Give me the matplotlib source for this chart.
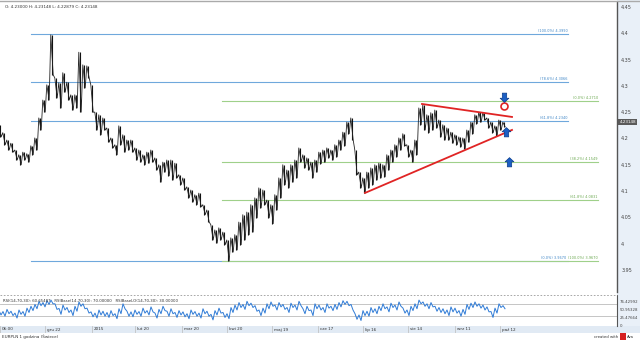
import matplotlib.pyplot as plt
import numpy as np
from matplotlib.path import Path
from matplotlib.patches import Rectangle

# EURPLN 1h, one entry per ~4 px column of the chart (high / low)
hi = [4.226, 4.211, 4.197, 4.191, 4.178, 4.169, 4.174, 4.171, 4.186, 4.201,
      4.239, 4.273, 4.302, 4.397, 4.315, 4.306, 4.325, 4.307, 4.283, 4.283,
      4.364, 4.340, 4.338, 4.302, 4.250, 4.245, 4.239, 4.220, 4.201, 4.188,
      4.224, 4.207, 4.197, 4.197, 4.182, 4.178, 4.169, 4.174, 4.178, 4.163,
      4.150, 4.155, 4.159, 4.159, 4.153, 4.131, 4.125, 4.108, 4.102, 4.093,
      4.096, 4.074, 4.064, 4.036, 4.026, 4.030, 4.022, 4.007, 4.011, 4.017,
      4.041, 4.055, 4.060, 4.074, 4.087, 4.106, 4.102, 4.083, 4.074, 4.093,
      4.125, 4.150, 4.140, 4.150, 4.159, 4.182, 4.169, 4.163, 4.155, 4.159,
      4.174, 4.178, 4.182, 4.178, 4.188, 4.197, 4.212, 4.231, 4.239, 4.178,
      4.136, 4.125, 4.136, 4.144, 4.150, 4.153, 4.150, 4.169, 4.178, 4.188,
      4.201, 4.209, 4.188, 4.178, 4.197, 4.258, 4.264, 4.245, 4.249, 4.254,
      4.235, 4.226, 4.220, 4.212, 4.207, 4.203, 4.201, 4.216, 4.231, 4.245,
      4.250, 4.249, 4.239, 4.231, 4.224, 4.235, 4.231]
lo = [4.203, 4.188, 4.178, 4.174, 4.159, 4.150, 4.159, 4.155, 4.169, 4.178,
      4.216, 4.250, 4.273, 4.321, 4.277, 4.258, 4.288, 4.273, 4.254, 4.258,
      4.250, 4.296, 4.315, 4.250, 4.216, 4.207, 4.216, 4.193, 4.182, 4.169,
      4.188, 4.174, 4.178, 4.174, 4.159, 4.155, 4.150, 4.153, 4.155, 4.140,
      4.117, 4.136, 4.129, 4.121, 4.125, 4.112, 4.102, 4.087, 4.079, 4.074,
      4.070, 4.055, 4.041, 4.007, 4.001, 4.007, 3.998, 3.967, 3.984, 3.988,
      3.998, 4.007, 4.017, 4.022, 4.049, 4.068, 4.074, 4.049, 4.038, 4.064,
      4.087, 4.112, 4.106, 4.117, 4.125, 4.155, 4.144, 4.140, 4.125, 4.136,
      4.152, 4.155, 4.163, 4.159, 4.165, 4.178, 4.186, 4.209, 4.197, 4.131,
      4.106, 4.096, 4.106, 4.112, 4.121, 4.125, 4.127, 4.140, 4.155, 4.165,
      4.178, 4.186, 4.165, 4.155, 4.169, 4.226, 4.216, 4.211, 4.216, 4.220,
      4.203, 4.197, 4.197, 4.191, 4.188, 4.184, 4.180, 4.193, 4.209, 4.228,
      4.231, 4.235, 4.220, 4.211, 4.205, 4.216, 4.222]

# RSI(14), two readings per column (upper / lower swing)
rsi_hi = [48, 45, 52, 46, 40, 50, 45, 56, 62, 68,
          78, 74, 80, 82, 70,
          55, 66, 58, 50, 62, 76,
          70, 56, 44, 40, 50, 46,
          42, 48, 38, 54, 70, 46, 44, 50,
          45, 56, 48, 60, 40, 52, 62, 46, 54, 42, 48,
          44, 38, 50, 45, 40, 54, 46, 36, 48, 56, 42, 38,
          58, 66, 74, 68, 78, 72, 64, 50, 56, 70, 76, 66, 74,
          68, 58, 72, 66, 78, 54, 62, 50, 70, 66, 58, 70, 62, 68,
          74, 80, 78, 68,
          38, 34, 48, 46, 58,
          54, 62, 70, 60, 72, 66, 76, 56, 50, 62, 70,
          82, 76, 70, 74, 62, 58,
          54, 50, 60, 56, 48, 52, 68, 72,
          76, 70, 66, 60, 45, 56, 70, 64]
rsi_lo = [34, 30, 38, 32, 24, 36, 30, 42, 48, 54,
          64, 60, 68, 70, 52,
          36, 50, 42, 32, 46, 62,
          54, 40, 28, 24, 34, 30,
          26, 32, 22, 38, 54, 30, 28, 36,
          30, 40, 34, 44, 24, 38, 48, 30, 38, 26, 34,
          28, 22, 36, 30, 24, 38, 30, 18, 34, 40, 26, 22,
          42, 50, 58, 52, 64, 58, 46, 32, 40, 54, 62, 50, 60,
          52, 42, 58, 50, 64, 38, 48, 32, 54, 50, 42, 56, 48, 52,
          60, 68, 64, 50,
          20, 16, 32, 30, 42,
          38, 48, 54, 44, 58, 50, 62, 40, 32, 48, 54,
          70, 62, 54, 60, 46, 42,
          38, 32, 44, 40, 30, 36, 52, 58,
          62, 56, 50, 44, 26, 40, 58, 54]

date_labels = ['06:00', 'gru 22', '2015', 'lut 20', 'mar 20', 'kwi 20',
               'maj 19', 'cze 17', 'lip 16', 'sie 14', 'wrz 11', 'paź 12']
date_pos = [0, 11.25, 23, 33.75, 45.5, 56.75, 68, 79.5, 90.75, 102, 113.75, 125]

price_ticks = [4.45, 4.4, 4.35, 4.3, 4.25, 4.2, 4.15, 4.1, 4.05, 4.0, 3.95]
price_labels = ['4.45', '4.4', '4.35', '4.3', '4.25', '4.2', '4.15', '4.1', '4.05', '4', '3.95']

blue_pct = ['100.0%', '78.6%', '61.8%', '0.0%']
blue_lev = [4.3990, 4.3066, 4.2340, 3.9670]
green_pct = ['0.0%', '38.2%', '61.8%', '100.0%']
green_lev = [4.2710, 4.1549, 4.0831, 3.9670]

tri_upper = [(105.5, 4.2656), (128, 4.2409)]
tri_lower = [(91.25, 4.0964), (128, 4.2162)]
circle_pt = (126, 4.2618)
arrows_down = [(126, 4.279)]
arrows_up = [(126.5, 4.2124), (127.2, 4.1554)]

rsi_ticks = [0, 25.47664, 50.95328, 76.42992]
rsi_labels = ['0', '25.47664', '50.95328', '76.42992']

W, H = 640, 341
fig = plt.figure(figsize=(6.4, 3.41), dpi=100)
fig.patch.set_facecolor('white')

XMAX = 617 / 4
fig.patches.append(Rectangle((617 / W, 15 / H), 23 / W, 1 - 15 / H, transform=fig.transFigure,
                             facecolor='#e9f0f8', edgecolor='none', zorder=-5))
fig.patches.append(Rectangle((0, 8 / H), 1, 7 / H, transform=fig.transFigure,
                             facecolor='#e1eaf4', edgecolor='none', zorder=-5))

# ---- price panel
ax = fig.add_axes([0, 49 / H, 617 / W, 290 / H])
ax.set_facecolor('none')
ax.set_xlim(0, XMAX)
ax.set_ylim(3.908, 4.4595)
for s in ['top', 'left', 'bottom']:
    ax.spines[s].set_visible(False)
ax.spines['right'].set_color('#555555')
ax.spines['right'].set_linewidth(1.0)
ax.yaxis.tick_right()
ax.set_yticks(price_ticks)
ax.set_yticklabels(price_labels)
ax.tick_params(axis='y', length=0, pad=3, labelsize=3.5, labelcolor='#444444')
ax.set_xticks([])

xs = np.arange(len(hi))
ax.vlines(xs, lo, hi, color='#111111', lw=0.8, zorder=3)
xz = np.column_stack([xs - 0.3, xs + 0.3]).ravel()
yz = np.column_stack([hi, lo]).ravel()
ax.plot(xz, yz, color='#222222', lw=0.6, zorder=3)

for v in blue_lev:
    ax.plot([7.75, 142], [v, v], color='#6fa8dc', lw=0.8, zorder=2)
for v in green_lev:
    ax.plot([55.5, 149.5], [v, v], color='#9fd08a', lw=0.8, zorder=2)
for p, v in zip(blue_pct[:3], blue_lev[:3]):
    ax.text(142, v + 0.002, '(%s) %.4f' % (p, v), ha='right', va='bottom',
            fontsize=2.5, color='#3d85c6')
for p, v in zip(green_pct, green_lev):
    ax.text(149.5, v + 0.002, '(%s) %.4f' % (p, v), ha='right', va='bottom',
            fontsize=2.5, color='#6aa84f')
ax.text(141.6, blue_lev[3] + 0.002, '(%s) %.4f' % (blue_pct[3], blue_lev[3]), ha='right',
        va='bottom', fontsize=2.5, color='#3d85c6')

ax.plot(*zip(*tri_upper), color='#e02424', lw=1.3, zorder=4)
ax.plot(*zip(*tri_lower), color='#e02424', lw=1.3, zorder=4)
ax.plot([circle_pt[0]], [circle_pt[1]], marker='o', ms=5, mfc='white', mec='#e02424',
        mew=1.2, zorder=5)

up = Path([(0, 1), (0.9, 0.15), (0.45, 0.15), (0.45, -0.9), (-0.45, -0.9),
           (-0.45, 0.15), (-0.9, 0.15), (0, 1)])
down = Path([(x, -y) for x, y in up.vertices])
for x, y in arrows_up:
    ax.plot(x, y, marker=up, ms=7, color='#1c5fc4', mec='#0b3d8a', mew=0.5, zorder=5)
for x, y in arrows_down:
    ax.plot(x, y, marker=down, ms=7, color='#1c5fc4', mec='#0b3d8a', mew=0.5, zorder=5)

ax.text(1.2, 4.4633 - 7 * 0.0019011, 'O: 4.23000 H: 4.23148 L: 4.22879 C: 4.23148',
        fontsize=3, color='#333333', va='center')

# last price tag
ax.text(XMAX + 0.6, 4.23148, '4.23148', fontsize=3.0, color='white', va='center',
        ha='left', clip_on=False,
        bbox=dict(boxstyle='square,pad=0.3', fc='#5a5a5a', ec='none'))

# ---- RSI panel
oax = fig.add_axes([0, 15.5 / H, 617 / W, 31 / H])
oax.set_facecolor('none')
oax.set_xlim(0, XMAX)
oax.set_ylim(0, 100)
for s in ['top', 'left', 'bottom']:
    oax.spines[s].set_visible(False)
oax.spines['right'].set_color('#555555')
oax.yaxis.tick_right()
oax.set_yticks(rsi_ticks)
oax.set_yticklabels(rsi_labels)
oax.tick_params(axis='y', length=0, pad=2, labelsize=2.8, labelcolor='#444444')
oax.set_xticks([])
oax.axhline(70, color='#bbbbbb', lw=0.6)
oax.axhline(30, color='#bbbbbb', lw=0.6)
rx = np.arange(len(rsi_hi))
rxz = np.column_stack([rx - 0.25, rx + 0.25]).ravel()
ryz = np.column_stack([rsi_hi, rsi_lo]).ravel()
oax.plot(rxz, ryz, color='#2f7bd6', lw=0.7)
oax.text(0.005, 0.8, 'RSI(14,70,30): 60.65487   RSIBase(14,70,30): 70.00000   '
         'RSIBaseLO(14,70,30): 30.00000', transform=oax.transAxes, fontsize=2.8,
         color='#333333', va='center')

fig.add_artist(plt.Line2D([0, 617 / W], [1 - 295 / H, 1 - 295 / H], color='#999999',
                          lw=0.6, ls=(0, (2, 2))))
fig.add_artist(plt.Line2D([0, 1], [1 - 0.5 / H, 1 - 0.5 / H], color='#aaaaaa', lw=1))

# ---- date strip
dax = fig.add_axes([0, 8 / H, 617 / W, 7 / H])
dax.set_facecolor('none')
dax.set_xlim(0, XMAX)
dax.set_ylim(0, 1)
dax.axis('off')
for p, lab in zip(date_pos, date_labels):
    dax.plot([p, p], [0, 1], color='#bbbbbb', lw=0.5)
    dax.text(p + 0.4, 0.5, lab, fontsize=3, color='#333333', va='center')

fig.text(2 / W, 1 - 337 / H, 'EURPLN 1 godzina (Świece)', fontsize=3, color='#333333',
         va='center')
fig.text(618 / W, 1 - 337 / H, 'created with', fontsize=2.8, color='#333333', va='center',
         ha='right')
fig.patches.append(Rectangle((620 / W, 1 - 340 / H), 6 / W, 7 / H, transform=fig.transFigure,
                             facecolor='#d62020', edgecolor='none'))
fig.text(627 / W, 1 - 337 / H, 'Ava', fontsize=2.8, color='#333333', va='center')

fig.savefig('out.png', dpi=100)
